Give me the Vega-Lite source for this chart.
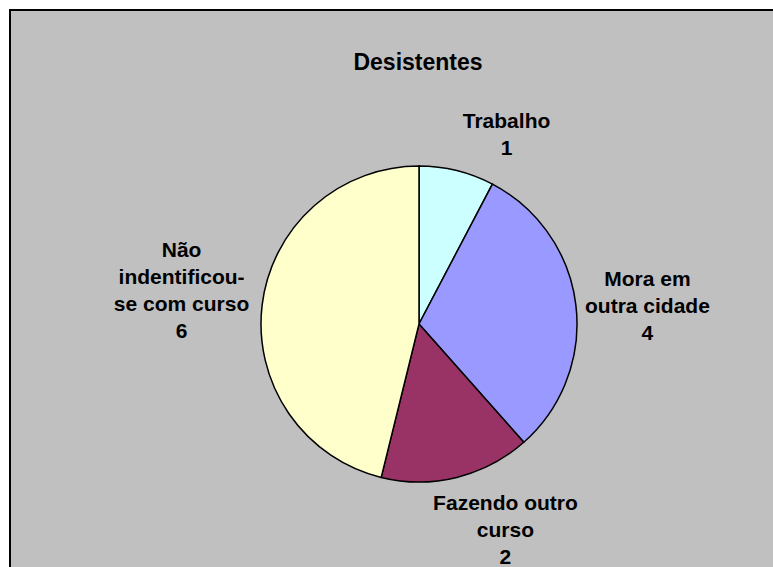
{
  "$schema": "https://vega.github.io/schema/vega-lite/v6.json",
  "width": 818,
  "height": 628,
  "autosize": {"type": "none"},
  "padding": {"left": 10, "top": 10, "right": -55, "bottom": -71},
  "background": "white",
  "view": {"fill": "#C0C0C0", "stroke": "black", "strokeWidth": 2},
  "config": {"view": {"fill": "#C0C0C0", "stroke": "black", "strokeWidth": 2}},
  "title": {"text": "Desistentes", "font": "Liberation Sans", "fontSize": 23, "fontWeight": "bold", "color": "black", "anchor": "middle", "baseline": "alphabetic", "offset": -61, "dy": 22, "dx": -1},
  "data": {"values": [
    {"categoria": "Trabalho", "label": "Trabalho\n1", "value": 1, "order": 1},
    {"categoria": "Mora em outra cidade", "label": "Mora em\noutra cidade\n4", "value": 4, "order": 2},
    {"categoria": "Fazendo outro curso", "label": "Fazendo outro\ncurso\n2", "value": 2, "order": 3},
    {"categoria": "Não indentificou-se com curso", "label": "Não\nindentificou-\nse com curso\n6", "value": 6, "order": 4}
  ]},
  "transform": [
    {"stack": "value", "groupby": [], "sort": [{"field": "order", "order": "ascending"}], "as": ["v0", "v1"]},
    {"calculate": "(datum.v0 + datum.v1) / 2", "as": "mid"}
  ],
  "layer": [
    {
      "mark": {"type": "arc", "outerRadius": 158, "stroke": "black", "strokeWidth": 1.5},
      "encoding": {
        "theta": {"field": "v0", "type": "quantitative", "scale": {"domain": [0, 13]}},
        "theta2": {"field": "v1"},
        "color": {"field": "categoria", "type": "nominal", "legend": null,
          "scale": {"domain": ["Trabalho", "Mora em outra cidade", "Fazendo outro curso", "Não indentificou-se com curso"],
                    "range": ["#CCFFFF", "#9999FF", "#993366", "#FFFFCC"]}}
      }
    },
    {
      "transform": [{"filter": "datum.order == 1"}],
      "mark": {"type": "text", "radius": 207, "dx": 38, "dy": -1, "font": "Liberation Sans", "fontSize": 21, "fontWeight": "bold", "color": "black", "lineBreak": "\n", "lineHeight": 27, "align": "center", "baseline": "middle"},
      "encoding": {"theta": {"field": "mid", "type": "quantitative", "stack": null, "scale": {"domain": [0, 13]}}, "text": {"field": "label", "type": "nominal"}}
    },
    {
      "transform": [{"filter": "datum.order == 2"}],
      "mark": {"type": "text", "radius": 215, "dx": 15, "dy": -18, "font": "Liberation Sans", "fontSize": 21, "fontWeight": "bold", "color": "black", "lineBreak": "\n", "lineHeight": 27, "align": "center", "baseline": "middle"},
      "encoding": {"theta": {"field": "mid", "type": "quantitative", "stack": null, "scale": {"domain": [0, 13]}}, "text": {"field": "label", "type": "nominal"}}
    },
    {
      "transform": [{"filter": "datum.order == 3"}],
      "mark": {"type": "text", "radius": 215, "dx": 35, "dy": -29, "font": "Liberation Sans", "fontSize": 21, "fontWeight": "bold", "color": "black", "lineBreak": "\n", "lineHeight": 27, "align": "center", "baseline": "middle"},
      "encoding": {"theta": {"field": "mid", "type": "quantitative", "stack": null, "scale": {"domain": [0, 13]}}, "text": {"field": "label", "type": "nominal"}}
    },
    {
      "transform": [{"filter": "datum.order == 4"}],
      "mark": {"type": "text", "radius": 215, "dx": -24, "dy": -47, "font": "Liberation Sans", "fontSize": 21, "fontWeight": "bold", "color": "black", "lineBreak": "\n", "lineHeight": 27, "align": "center", "baseline": "middle"},
      "encoding": {"theta": {"field": "mid", "type": "quantitative", "stack": null, "scale": {"domain": [0, 13]}}, "text": {"field": "label", "type": "nominal"}}
    }
  ]
}
